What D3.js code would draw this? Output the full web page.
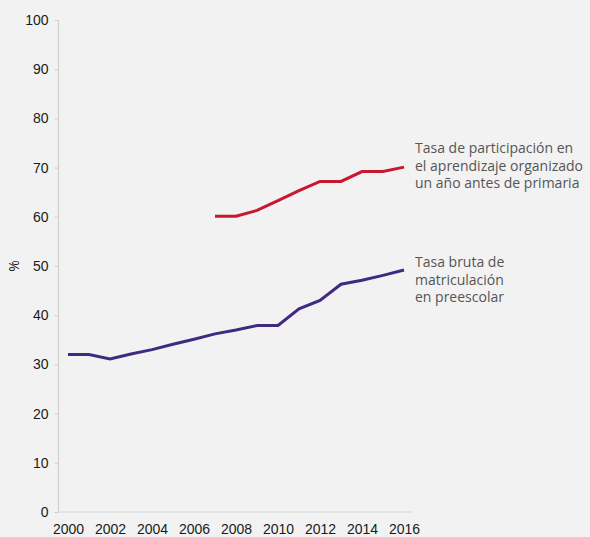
<!DOCTYPE html>
<html lang="es">
<head>
<meta charset="UTF-8"/>
<title>Tasa de matriculación</title>
<script src="https://d3js.org/d3.v7.min.js"></script>
<style>
  html, body { margin: 0; padding: 0; background: #f2f2f2; }
  svg { display: block; font-family: "Open Sans", "Noto Sans", sans-serif; }
</style>
</head>
<body>
<script>
var w = 590;
var h = 537;

// data
var years = [2000, 2001, 2002, 2003, 2004, 2005, 2006, 2007, 2008, 2009, 2010, 2011, 2012, 2013, 2014, 2015, 2016];
var brutaValues = [32, 32, 31.1, 32.1, 33, 34.1, 35.1, 36.2, 37, 37.9, 37.9, 41.3, 43, 46.3, 47.1, 48.1, 49.2];
var participYears = [2007, 2008, 2009, 2010, 2011, 2012, 2013, 2014, 2015, 2016];
var participValues = [60.1, 60.1, 61.3, 63.3, 65.3, 67.2, 67.2, 69.2, 69.2, 70.1];
var yTicks = [0, 10, 20, 30, 40, 50, 60, 70, 80, 90, 100];
var xTicks = [2000, 2002, 2004, 2006, 2008, 2010, 2012, 2014, 2016];
var brutaLabel = ["Tasa bruta de", "matriculación", "en preescolar"];
var participLabel = ["Tasa de participación en", "el aprendizaje organizado", "un año antes de primaria"];

var xScale = d3.scaleLinear().domain([2000, 2016]).range([68, 404]);
var yScale = d3.scaleLinear().domain([0, 100]).range([512, 20]);

var svg = d3.select("body").append("svg")
    .attr("width", w)
    .attr("height", h);

// y axis
var yAxis = d3.axisLeft(yScale).tickValues(yTicks).tickSize(4).tickPadding(6);
var gy = svg.append("g")
    .attr("transform", "translate(58.5,0)")
    .call(yAxis);
gy.select(".domain").attr("stroke", "#cfcfcf").attr("stroke-width", 1.2)
    .attr("d", "M0," + yScale(100) + "V" + yScale(0));
gy.selectAll(".tick line").attr("stroke", "#cfcfcf");
gy.selectAll(".tick text").attr("fill", "#1a1a1a").style("font-size", "14px");

// x axis
var xAxis = d3.axisBottom(xScale).tickValues(xTicks).tickSize(0).tickPadding(12)
    .tickFormat(d3.format("d"));
var gx = svg.append("g")
    .attr("transform", "translate(0," + yScale(0) + ")")
    .call(xAxis);
gx.select(".domain").attr("stroke", "#dedede").attr("stroke-width", 1.5)
    .attr("d", "M58.5,0H413");
gx.selectAll(".tick text").attr("fill", "#1a1a1a").style("font-size", "14px");

// y axis title
svg.append("text")
    .attr("transform", "translate(19," + yScale(50) + ") rotate(-90)")
    .attr("text-anchor", "middle")
    .style("font-size", "14px")
    .attr("fill", "#1a1a1a")
    .text("%");

var line = d3.line()
    .x(function(d){ return xScale(d[0]); })
    .y(function(d){ return yScale(d[1]); });

svg.append("path")
    .datum(d3.zip(years, brutaValues))
    .attr("fill", "none")
    .attr("stroke", "#3f2a80")
    .attr("stroke-width", 3)
    .attr("d", line);

svg.append("path")
    .datum(d3.zip(participYears, participValues))
    .attr("fill", "none")
    .attr("stroke", "#c8172f")
    .attr("stroke-width", 3)
    .attr("d", line);

// line labels
function addLabel(lines, y0) {
    svg.append("text")
        .attr("x", 415)
        .attr("y", y0)
        .attr("fill", "#555")
        .style("font-size", "14px")
        .selectAll("tspan")
        .data(lines)
        .enter()
        .append("tspan")
        .attr("x", 415)
        .attr("dy", function(d, i){ return i === 0 ? 0 : 17.5; })
        .text(function(d){ return d; });
}
addLabel(participLabel, 153);
addLabel(brutaLabel, 267);
</script>
</body>
</html>
